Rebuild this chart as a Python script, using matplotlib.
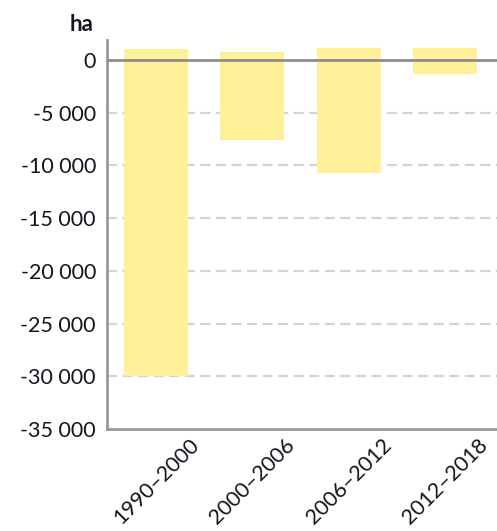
import matplotlib
matplotlib.use("Agg")
import matplotlib.pyplot as plt
from matplotlib.ticker import FuncFormatter, FixedLocator

periods = ["1990–2000", "2000–2006", "2006–2012", "2012–2018"]
gains = [1000, 800, 1150, 1150]
losses = [-30000, -7600, -10700, -1300]
yticks = [0, -5000, -10000, -15000, -20000, -25000, -30000, -35000]

plt.rcParams['font.family'] = ['Lato', 'DejaVu Sans']
fig = plt.figure(figsize=(4.97, 5.31), dpi=100)
ax = fig.add_axes([0.2153, 0.1921, 0.7847, 0.7326])

bar_color = "#FFF09A"
x = list(range(len(periods)))
ax.bar(x, gains, width=0.665, color=bar_color, zorder=2)
ax.bar(x, losses, width=0.665, color=bar_color, zorder=2)

ax.set_xlim(-0.51, 3.54)
ax.set_ylim(-35000, 1900)
ax.yaxis.set_major_locator(FixedLocator(yticks))
ax.yaxis.set_major_formatter(FuncFormatter(
    lambda v, p: ("-" if v < 0 else "") + f"{abs(int(v)):,}".replace(",", " ")))

for t in yticks[1:-1]:
    ax.axhline(t, color="#D3D3D3", lw=1.6, ls=(0, (4.5, 2.5)), zorder=1)
ax.axhline(0, color="#8C8C8C", lw=2, zorder=3)

for s in ["top", "right"]:
    ax.spines[s].set_visible(False)
for s in ["left", "bottom"]:
    ax.spines[s].set_color("#999999")
    ax.spines[s].set_linewidth(2)

tc = "#15151f"
ax.set_xticks(x)
ax.set_xticklabels(periods, rotation=45, ha="center", fontsize=15.5, color=tc)
ax.tick_params(axis="x", length=0, pad=4)
ax.tick_params(axis="y", length=0, pad=8, labelsize=15.5, labelcolor=tc)

fig.text(0.140, 0.953, "ha", fontsize=16, fontweight="bold", color=tc,
         ha="left", va="center")

fig.savefig("out.png", dpi=100)
